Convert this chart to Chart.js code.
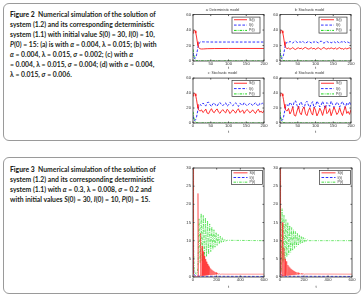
<!DOCTYPE html>
<html><head><meta charset="utf-8">
<script src="https://cdn.jsdelivr.net/npm/chart.js@4.4.0/dist/chart.umd.min.js"></script>
<style>
html,body{margin:0;padding:0;background:#fff;}
body{width:364px;height:296px;position:relative;overflow:hidden;}
.box{position:absolute;border:1px solid #9a9a9a;border-radius:6px;box-sizing:border-box;}
.cap{position:absolute;left:10px;color:#231f20;font-family:Lato,"Open Sans",sans-serif;font-size:6.8px;font-weight:700;white-space:nowrap;line-height:10px;}
canvas{position:absolute;}
</style></head><body>
<div class="box" style="left:3px;top:3px;width:358px;height:138px"></div>
<div class="box" style="left:3px;top:157px;width:358px;height:137px"></div>
<div class="cap" style="top:9px">
<div><b>Figure 2</b>&nbsp; Numerical simulation of the solution of</div>
<div>system (1.2) and its corresponding deterministic</div>
<div>system (1.1) with initial value <i>S</i>(0) = 30, <i>I</i>(0) = 10,</div>
<div><i>P</i>(0) = 15: (a) is with <i>α</i> = 0.004, λ = 0.015; (b) with</div>
<div><i>α</i> = 0.004, λ = 0.015, <i>σ</i> = 0.002; (c) with <i>α</i></div>
<div>= 0.004, λ = 0.015, <i>σ</i> = 0.004; (d) with <i>α</i> = 0.004,</div>
<div>λ = 0.015, <i>σ</i> = 0.006.</div>
</div>
<div class="cap" style="top:164px">
<div><b>Figure 3</b>&nbsp; Numerical simulation of the solution of</div>
<div>system (1.2) and its corresponding deterministic</div>
<div>system (1.1) with <i>α</i> = 0.3, λ = 0.008, <i>σ</i> = 0.2 and</div>
<div>with initial values <i>S</i>(0) = 30, <i>I</i>(0) = 10, <i>P</i>(0) = 15.</div>
</div>
<canvas id="cA" width="89" height="70" style="left:180px;top:4px;width:89px;height:70px"></canvas>
<canvas id="cB" width="89" height="70" style="left:267px;top:4px;width:89px;height:70px"></canvas>
<canvas id="cC" width="89" height="70" style="left:180px;top:67px;width:89px;height:70px"></canvas>
<canvas id="cD" width="89" height="70" style="left:267px;top:67px;width:89px;height:70px"></canvas>
<canvas id="cE" width="89" height="127" style="left:180px;top:163px;width:89px;height:127px"></canvas>
<canvas id="cF" width="90" height="127" style="left:267px;top:163px;width:90px;height:127px"></canvas>
<script>
// ---------- Figure 2 data ----------
const seriesLabels = ['S(t)', 'I(t)', 'P(t)'];
const titles2 = ['a: Deterministic model', 'b: Stochastic model', 'c: Stochastic model', 'd: Stochastic model'];
const xTicks2 = [0, 50, 100, 150, 200];
const yTicks2 = [0, 20, 40, 60];

const tA = [0,2,4,6,8,10,12,14,16,18,20,24,30,40,60,100,200];
const S_a = [36,39,40,39,36,31,25,20,17.5,16.3,15.8,15.5,15.6,15.9,16.1,16.2,16.2];
const I_a = [10,5,3.5,3.5,5,8,13,18,21.5,23.5,24.4,24.8,24.7,24.6,24.5,24.5,24.5];

const tP2 = [0,2,4,6,8,10,14,20,30,200];
const P2 = [15,8,4,2,1,0.5,0.2,0.1,0.05,0];

const tFig2 = [0,2,4,6,8,10,12,14,16,18,20,24,28,32,36,40,44,48,52,56,60,64,68,72,76,80,84,88,92,96,100,104,108,112,116,120,124,128,132,136,140,144,148,152,156,160,164,168,172,176,180,184,188,192,196,200];
const S_b = [36,39,40,39,36,31,25,20,17.5,16.5,16,
 16.8,15.2,16.1,17.3,15.6,14.9,16.4,17.0,15.8,16.6,15.1,16.9,17.5,16.2,15.4,16.0,17.2,15.7,16.5,15.0,16.3,17.1,15.9,14.8,16.7,17.4,16.0,15.3,16.6,15.8,17.0,16.2,15.5,16.9,15.2,16.4,17.3,15.7,16.1,14.9,16.8,15.6,16.3,17.0,15.4];
const I_b = [10,5,3.5,3.5,5,8,13,18,21.5,23.5,24.5,
 23.6,25.3,24.4,23.2,25.0,25.8,24.1,23.5,24.9,24.0,25.6,23.7,23.0,24.3,25.2,24.6,23.3,25.0,24.1,25.7,24.4,23.4,24.8,25.9,23.9,23.1,24.6,25.4,24.0,24.9,23.5,24.3,25.1,23.6,25.5,24.2,23.2,24.9,24.5,25.8,23.8,25.0,24.2,23.4,25.2];
const S_c = [36,39,40,39,36,31,25,20,17.5,16.5,16,
 17.5,14.0,15.8,18.6,13.2,12.4,16.3,19.1,15.0,13.8,17.2,18.8,14.5,12.9,16.0,17.9,15.2,13.5,18.3,16.6,12.6,14.8,17.7,15.9,13.1,16.8,19.0,14.2,15.5,17.3,12.8,15.7,18.1,16.4,13.6,14.9,17.6,15.1,12.7,16.2,18.5,14.4,15.8,13.3,16.9];
const I_c = [9,5,3.5,3.5,5,8,13,18,21.5,23.5,24.5,
 23.4,26.5,25.1,22.6,27.2,27.8,24.3,22.0,25.7,26.8,23.6,22.3,26.0,27.5,24.6,23.0,25.4,27.0,22.5,24.0,27.6,25.8,23.2,24.8,27.1,24.2,22.1,26.2,25.0,23.5,27.3,24.9,22.8,24.5,26.7,25.5,23.1,25.2,27.4,24.4,22.4,26.1,24.7,26.9,23.8];
const S_d = [36,39,40,39,36,31,25,20,17.5,16.5,16,
 19.5,12.0,15.5,21.8,10.4,9.2,16.0,22.5,13.6,11.0,18.7,21.4,12.2,9.8,16.5,20.3,14.0,10.6,21.0,17.2,9.5,13.4,19.8,15.9,10.1,17.5,23.0,12.5,14.6,19.2,9.7,15.1,21.2,16.8,11.3,13.8,20.5,14.3,9.9,16.6,22.1,12.8,15.4,11.5,18.0];
const I_d = [9,5,3.5,3.5,5,8,13,18,21.5,23.5,24.5,
 22.0,27.6,25.2,20.3,28.8,29.5,23.6,19.4,26.4,28.2,21.9,19.8,27.1,29.0,24.0,20.9,25.8,28.5,20.1,22.7,29.3,26.0,21.4,24.1,28.9,23.5,19.2,27.3,25.4,22.3,29.1,24.9,20.6,23.8,28.0,25.9,21.2,25.6,28.7,24.4,19.9,27.0,24.6,28.1,22.6];

// ---------- Figure 3 data ----------
const xTicks3 = [0, 200, 400, 600];
const yTicks3 = [0, 5, 10, 15, 20, 25, 30];

const tS3a = [0,3,6,10,20,30,38,42,46,55,60,64,68,73,77,81,86,90,95,99,104,108,113,117,122,126,131,135,140,144,149,153,158,162,167,171,176,180,185,190,195,200,206,212,220,230,245,270,600];
const S3a  = [30,6,0.8,0.2,0.1,0.1,0.2,23,0.2,0.2,0.3,12,0.3,0.35,8.5,0.35,7,0.4,5.8,0.4,4.9,0.45,4.2,0.5,3.6,0.5,3.1,0.55,2.7,0.55,2.35,0.6,2.05,0.6,1.8,0.65,1.6,0.65,1.4,0.7,1.25,0.7,1.1,0.72,0.95,0.75,0.8,0.78,0.78];
const tI3 = [0,3,8,20,60,600];
const I3  = [10,3,0.8,0.3,0.2,0.15];
const tP3a = [0,2,5,10,20,30,38,42,51,60,69,78,87,96,105,114,123,132,141,150,159,168,177,186,195,204,213,222,231,240,249,258,267,276,290,600];
const P3a  = [15,32,8,2,1,0.8,1.5,3,16,4,17.5,4.5,17,5,16.3,5.6,15.5,6.3,14.6,7,13.8,7.6,13,8.2,12.3,8.7,11.7,9.1,11.2,9.4,10.8,9.7,10.4,9.9,10.1,10];

const tS3b = [0,3,6,10,16,20,24,29,33,37,42,46,50,54,58,62,66,70,74,78,82,86,90,94,98,102,106,110,114,118,122,126,130,135,140,145,150,156,162,168,175,183,192,202,215,600];
const S3b  = [30,5,0.6,0.2,0.2,15,0.2,0.3,8,0.3,5,0.35,4.3,0.4,3.8,0.4,3.3,0.45,2.9,0.5,2.6,0.5,2.3,0.55,2.1,0.55,1.9,0.6,1.7,0.6,1.55,0.65,1.4,0.65,1.3,0.7,1.2,0.7,1.1,0.72,1.0,0.74,0.9,0.76,0.82,0.78];
const tP3b = [0,2,5,10,17,25,33,41,49,57,65,73,81,89,97,105,113,121,129,137,145,153,161,169,177,185,193,201,209,217,225,240,600];
const P3b  = [15,32,6,1.5,18.8,4,17,4.8,15.8,5.5,15,6.2,14.2,6.8,13.6,7.4,13,7.9,12.5,8.4,12,8.8,11.6,9.1,11.2,9.4,10.9,9.6,10.6,9.8,10.3,10,10];

// ---------- drawing ----------
Chart.defaults.font.family = '"Liberation Sans", Arial, sans-serif';
const COLORS = ['#ff1a1a', '#1a1aff', '#00d000'];
const COLORS3 = ['#ff2a2a', '#1a1aff', '#33dd33'];
const DASHES = [[], [2.6, 1.6], [2.6, 1.1, 0.8, 1.1]];

function ds(k, t, y, w, pal) {
  return { label: seriesLabels[k], data: t.map((x, i) => ({ x, y: y[i] })),
    borderColor: (pal || COLORS)[k], borderDash: DASHES[k], borderWidth: w || 0.9,
    pointRadius: 0, fill: false, tension: 0 };
}

const framePlugin = {
  id: 'frame',
  afterDatasetsDraw(chart) {
    const { ctx, chartArea: a, scales: { x, y } } = chart;
    ctx.save();
    ctx.strokeStyle = '#333'; ctx.lineWidth = 0.8;
    ctx.strokeRect(a.left, a.top, a.right - a.left, a.bottom - a.top);
    ctx.beginPath();
    x.ticks.forEach(t => { const p = x.getPixelForValue(t.value);
      ctx.moveTo(p, a.bottom); ctx.lineTo(p, a.bottom - 1.5);
      ctx.moveTo(p, a.top); ctx.lineTo(p, a.top + 1.5); });
    y.ticks.forEach(t => { const p = y.getPixelForValue(t.value);
      ctx.moveTo(a.left, p); ctx.lineTo(a.left + 1.5, p);
      ctx.moveTo(a.right, p); ctx.lineTo(a.right - 1.5, p); });
    ctx.stroke();
    ctx.restore();
  }
};

const legendPlugin = {
  id: 'boxLegend',
  afterDatasetsDraw(chart, args, o) {
    const { ctx, chartArea: a } = chart;
    const x1 = a.right - o.right - o.w, y1 = a.top + o.top;
    ctx.save();
    ctx.fillStyle = '#fff'; ctx.fillRect(x1, y1, o.w, o.h);
    ctx.strokeStyle = '#333'; ctx.lineWidth = 0.7; ctx.strokeRect(x1, y1, o.w, o.h);
    const n = chart.data.datasets.length;
    chart.data.datasets.forEach((d, i) => {
      const yy = y1 + o.h * (i + 0.5) / n;
      ctx.beginPath(); ctx.setLineDash(d.borderDash || []);
      ctx.strokeStyle = d.borderColor; ctx.lineWidth = 0.9;
      ctx.moveTo(x1 + 2, yy); ctx.lineTo(x1 + 2 + o.len, yy); ctx.stroke();
      ctx.setLineDash([]);
      ctx.fillStyle = '#333'; ctx.font = o.font + 'px "Liberation Sans", Arial, sans-serif';
      ctx.textAlign = 'left'; ctx.textBaseline = 'middle';
      ctx.fillText(d.label, x1 + o.len + 4, yy);
    });
    ctx.restore();
  }
};

function makeChart(id, datasets, cfg) {
  const tickFont = { size: 4.2 };
  new Chart(document.getElementById(id), {
    type: 'line',
    data: { datasets },
    plugins: [framePlugin, legendPlugin],
    options: {
      responsive: false, animation: false, devicePixelRatio: 1,
      layout: { padding: cfg.pad },
      plugins: {
        legend: { display: false }, tooltip: { enabled: false },
        title: { display: !!cfg.title, text: cfg.title, color: '#333',
          font: { size: 3.4, weight: 'normal' }, padding: cfg.titlePad || 0 },
        boxLegend: cfg.legend
      },
      scales: {
        x: { type: 'linear', min: cfg.xTicks[0], max: cfg.xTicks[cfg.xTicks.length - 1],
          afterBuildTicks: s => { s.ticks = cfg.xTicks.map(v => ({ value: v })); },
          ticks: { font: tickFont, color: '#333', padding: 0.5, maxRotation: 0, autoSkip: false },
          grid: { display: false, drawTicks: false }, border: { display: false },
          title: { display: true, text: 't', color: '#333', font: { size: 4.2 }, padding: { top: 0, bottom: cfg.tPad } },
          afterFit: s => { s.height = cfg.xh; } },
        y: { type: 'linear', min: cfg.yTicks[0], max: cfg.yTicks[cfg.yTicks.length - 1],
          afterBuildTicks: s => { s.ticks = cfg.yTicks.map(v => ({ value: v })); },
          ticks: { font: tickFont, color: '#333', padding: 2, autoSkip: false },
          grid: { display: false, drawTicks: false }, border: { display: false },
          afterFit: s => { s.width = 12; } }
      }
    }
  });
}

const leg2 = { w: 28, h: 16, top: 2.5, right: 4, len: 13, font: 3.6 };
const leg3 = { w: 31, h: 14, top: 2.5, right: 1.5, len: 14, font: 3.6 };
const top2 = { pad: { left: 1, top: 1, right: 5, bottom: 1 }, titlePad: { top: 3.5, bottom: 2 }, xh: 12, tPad: 2.2 };
const bot2 = { pad: { left: 1, top: 1, right: 5, bottom: 1 }, titlePad: { top: 3.5, bottom: 2.5 }, xh: 13, tPad: 1.8 };

makeChart('cA', [ds(0, tA, S_a), ds(1, tA, I_a), ds(2, tP2, P2)],
  Object.assign({ title: titles2[0], xTicks: xTicks2, yTicks: yTicks2, legend: leg2 }, top2));
makeChart('cB', [ds(0, tFig2, S_b), ds(1, tFig2, I_b), ds(2, tP2, P2)],
  Object.assign({ title: titles2[1], xTicks: xTicks2, yTicks: yTicks2, legend: leg2 }, top2));
makeChart('cC', [ds(0, tFig2, S_c), ds(1, tFig2, I_c), ds(2, tP2, P2)],
  Object.assign({ title: titles2[2], xTicks: xTicks2, yTicks: yTicks2, legend: leg2 }, bot2));
makeChart('cD', [ds(0, tFig2, S_d), ds(1, tFig2, I_d), ds(2, tP2, P2)],
  Object.assign({ title: titles2[3], xTicks: xTicks2, yTicks: yTicks2, legend: leg2 }, bot2));

const fig3 = { pad: { left: 1, top: 5, right: 5, bottom: 1 }, xh: 12, tPad: 0 };
makeChart('cE', [ds(0, tS3a, S3a, 0.5, COLORS3), ds(1, tI3, I3, 0.8, COLORS3), ds(2, tP3a, P3a, 0.7, COLORS3)],
  Object.assign({ xTicks: xTicks3, yTicks: yTicks3, legend: leg3 }, fig3));
makeChart('cF', [ds(0, tS3b, S3b, 0.5, COLORS3), ds(1, tI3, I3, 0.8, COLORS3), ds(2, tP3b, P3b, 0.7, COLORS3)],
  Object.assign({ xTicks: xTicks3, yTicks: yTicks3, legend: leg3 }, fig3));
</script>
</body></html>
